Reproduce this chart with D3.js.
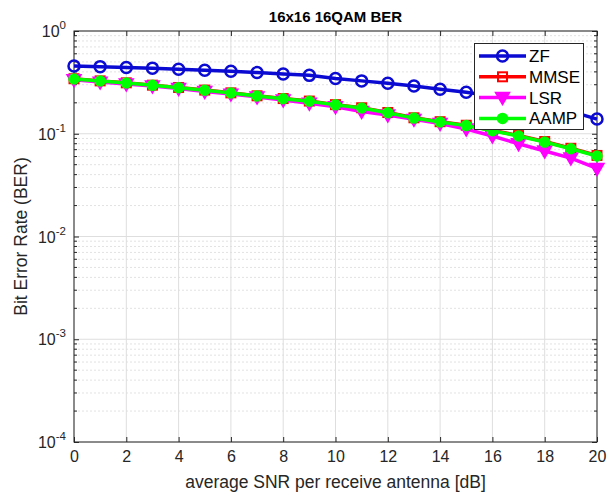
<!DOCTYPE html>
<html><head><meta charset="utf-8">
<script src="https://cdn.jsdelivr.net/npm/d3@7"></script>
<style>body{margin:0;background:#fff}svg{display:block}text{font-family:"Liberation Sans",Arial,sans-serif}</style>
</head><body><svg id="c" width="614" height="493"></svg>
<script>
const snr = [0,1,2,3,4,5,6,7,8,9,10,11,12,13,14,15,16,17,18,19,20];
const zf   = [0.456,0.450,0.442,0.435,0.425,0.415,0.405,0.394,0.382,0.370,0.345,0.327,0.310,0.291,0.271,0.253,0.233,0.212,0.190,0.165,0.139];
const mmse = [0.343,0.327,0.313,0.297,0.282,0.266,0.250,0.234,0.220,0.208,0.192,0.179,0.161,0.143,0.131,0.121,0.108,0.096,0.084,0.0722,0.0615];
const lsr  = [0.335,0.318,0.305,0.292,0.275,0.258,0.243,0.228,0.213,0.198,0.183,0.165,0.152,0.138,0.126,0.111,0.095,0.080,0.068,0.058,0.046];
const aamp = [0.341,0.326,0.312,0.296,0.281,0.265,0.249,0.233,0.219,0.207,0.191,0.178,0.160,0.142,0.130,0.120,0.107,0.095,0.083,0.0715,0.0607];
const xTicks = [0,2,4,6,8,10,12,14,16,18,20];
const yExps = [0,-1,-2,-3,-4];
const seriesNames = ["ZF","MMSE","LSR","AAMP"];

const L=74,R=597,T=31,B=442;
const svg=d3.select("#c");
const x=d3.scaleLinear().domain([0,20]).range([L,R]);
const y=d3.scaleLog().domain([1e-4,1]).range([B,T]);

// grid
const minor=[];
for(let e=-4;e<0;e++) for(let k=2;k<=9;k++) minor.push(k*Math.pow(10,e));
const g=svg.append("g");
g.selectAll(".mn").data(minor).enter().append("line")
 .attr("x1",L).attr("x2",R).attr("y1",d=>y(d)).attr("y2",d=>y(d))
 .attr("stroke","#e2e2e2").attr("stroke-width",1).attr("stroke-dasharray","2,2");
g.selectAll(".mj").data(yExps.map(e=>Math.pow(10,e))).enter().append("line")
 .attr("x1",L).attr("x2",R).attr("y1",d=>y(d)).attr("y2",d=>y(d))
 .attr("stroke","#dedede").attr("stroke-width",1);
g.selectAll(".vx").data(xTicks).enter().append("line")
 .attr("x1",d=>x(d)).attr("x2",d=>x(d)).attr("y1",T).attr("y2",B)
 .attr("stroke","#dedede").attr("stroke-width",1);

// axes
const ax=d3.axisBottom(x).tickValues(xTicks).tickSize(-5).tickPadding(9).tickFormat(d3.format("d"));
const gx=svg.append("g").attr("transform",`translate(0,${B})`).call(ax);
gx.select(".domain").remove();
gx.selectAll("line").attr("stroke","#262626");
gx.selectAll("text").attr("font-size",16).attr("fill","#262626");
const gxt=svg.append("g").attr("transform",`translate(0,${T})`).call(d3.axisTop(x).tickValues(xTicks).tickSize(-5).tickFormat(""));
gxt.select(".domain").remove(); gxt.selectAll("line").attr("stroke","#262626");

const ay=d3.axisLeft(y).tickValues(yExps.map(e=>Math.pow(10,e))).tickSize(-5).tickFormat("");
const gy=svg.append("g").attr("transform",`translate(${L},0)`).call(ay);
gy.select(".domain").remove(); gy.selectAll("line").attr("stroke","#262626");
const gyr=svg.append("g").attr("transform",`translate(${R},0)`).call(d3.axisRight(y).tickValues(yExps.map(e=>Math.pow(10,e))).tickSize(-5).tickFormat(""));
gyr.select(".domain").remove(); gyr.selectAll("line").attr("stroke","#262626");
// minor ticks
[L,R].forEach((xx,i)=>{
 svg.selectAll(null).data(minor).enter().append("line")
  .attr("x1",xx).attr("x2",i?xx-3:xx+3).attr("y1",d=>y(d)).attr("y2",d=>y(d))
  .attr("stroke","#262626").attr("stroke-width",1);
});
// y tick labels
const yl=svg.append("g");
yExps.forEach(e=>{
 const t=yl.append("text").attr("x",L-8).attr("y",y(Math.pow(10,e))+6)
  .attr("text-anchor","end").attr("font-size",16).attr("fill","#262626");
 t.append("tspan").text("10");
 t.append("tspan").attr("dy",-8).attr("font-size",11.5).text(String(e));
});
// box
svg.append("rect").attr("x",L).attr("y",T).attr("width",R-L).attr("height",B-T)
 .attr("fill","none").attr("stroke","#262626").attr("stroke-width",1);

// labels
svg.append("text").attr("x",(L+R)/2).attr("y",22).attr("text-anchor","middle")
 .attr("font-size",15).attr("font-weight","bold").attr("fill","#000").text("16x16 16QAM BER");
svg.append("text").attr("x",(L+R)/2).attr("y",488).attr("text-anchor","middle")
 .attr("font-size",17.5).attr("fill","#262626").text("average SNR per receive antenna [dB]");
svg.append("text").attr("transform",`translate(27,${(T+B)/2}) rotate(-90)`).attr("text-anchor","middle")
 .attr("font-size",17.5).attr("fill","#262626").text("Bit Error Rate (BER)");

// series
const line=d3.line().x((d,i)=>x(snr[i])).y(d=>y(d));
const styles=[
 {data:zf,color:"#0a0ad2",marker:"circle",fill:"none"},
 {data:mmse,color:"#ff0000",marker:"square",fill:"none"},
 {data:lsr,color:"#ff00ff",marker:"tri",fill:"#ff00ff"},
 {data:aamp,color:"#00ff00",marker:"dot",fill:"#00ff00"}
];
function drawMarker(sel,s,cx,cy){
 if(s.marker==="circle") sel.append("circle").attr("cx",cx).attr("cy",cy).attr("r",5.5).attr("fill","none").attr("stroke",s.color).attr("stroke-width",2.5);
 else if(s.marker==="square") sel.append("rect").attr("x",cx-4.5).attr("y",cy-4.5).attr("width",9).attr("height",9).attr("fill","none").attr("stroke",s.color).attr("stroke-width",2);
 else if(s.marker==="tri") sel.append("path").attr("d",`M${cx-7},${cy-5}L${cx+7},${cy-5}L${cx},${cy+7}Z`).attr("fill",s.fill).attr("stroke",s.color).attr("stroke-width",1.5);
 else sel.append("circle").attr("cx",cx).attr("cy",cy).attr("r",5).attr("fill",s.fill).attr("stroke",s.color).attr("stroke-width",1.5);
}
styles.forEach(s=>{
 const gg=svg.append("g");
 gg.append("path").datum(s.data).attr("d",line).attr("fill","none").attr("stroke",s.color).attr("stroke-width",3.5);
 s.data.forEach((d,i)=>drawMarker(gg,s,x(snr[i]),y(d)));
});

// legend
const lg=svg.append("g");
lg.append("rect").attr("x",474.5).attr("y",43.5).attr("width",109).attr("height",86)
 .attr("fill","#fff").attr("stroke","#262626").attr("stroke-width",1);
styles.forEach((s,i)=>{
 const yy=56+i*20.8;
 lg.append("line").attr("x1",479).attr("x2",526).attr("y1",yy).attr("y2",yy).attr("stroke",s.color).attr("stroke-width",3.5);
 drawMarker(lg,s,502.5,yy);
 lg.append("text").attr("x",529).attr("y",yy+6).attr("font-size",17).attr("fill","#000").text(seriesNames[i]);
});
</script></body></html>
